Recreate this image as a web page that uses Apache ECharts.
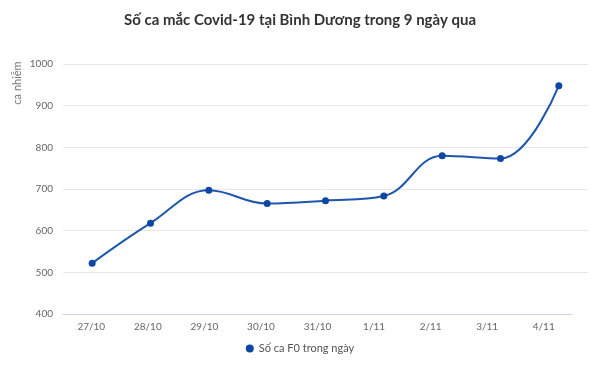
<!DOCTYPE html>
<html><head><meta charset="utf-8">
<script src="https://cdn.jsdelivr.net/npm/echarts@6/dist/echarts.min.js"></script>
<style>html,body{margin:0;padding:0;background:#fff}#c{width:600px;height:367px}</style>
</head><body><div id="c"></div>
<script>
const categories = ['27/10','28/10','29/10','30/10','31/10','1/11','2/11','3/11','4/11'];
const values = [522, 618, 697, 665, 672, 683, 780, 773, 948];
const yTicks = [400, 500, 600, 700, 800, 900, 1000];
const seriesName = 'Số ca F0 trong ngày';
const titleText = 'Số ca mắc Covid-19 tại Bình Dương trong 9 ngày qua';
const yTitle = 'ca nhiễm';

const font = 'Lato, "Open Sans", sans-serif';
const chart = echarts.init(document.getElementById('c'), null, {renderer:'canvas'});
chart.setOption({
  animation:false,
  title:{text:titleText,left:'center',top:8,textStyle:{fontFamily:font,fontSize:15,fontWeight:'bold',color:'#333'}},
  legend:{data:[{name:seriesName,icon:'circle'}],bottom:8,left:'center',itemWidth:8,itemHeight:8,itemGap:4,
    textStyle:{fontFamily:font,fontSize:11,color:'#555'}},
  graphic:[{type:'text',x:17,y:83,rotation:Math.PI/2,style:{text:yTitle,fontFamily:font,fontSize:11,fill:'#777',align:'center',verticalAlign:'middle'}}],
  grid:[
    {left:63,right:28,top:64,bottom:53},
    {left:63,right:12,top:64,bottom:53}
  ],
  xAxis:[
    {type:'category',gridIndex:0,data:categories,boundaryGap:true,
      axisLine:{lineStyle:{color:'#ccd6eb'}},axisTick:{show:false},
      axisLabel:{fontFamily:font,fontSize:10,color:'#666',margin:8}},
    {type:'category',gridIndex:1,data:categories,boundaryGap:true,show:false}
  ],
  yAxis:[
    {type:'value',gridIndex:0,min:yTicks[0],max:yTicks[yTicks.length-1],interval:100,show:false,splitLine:{show:false}},
    {type:'value',gridIndex:1,min:yTicks[0],max:yTicks[yTicks.length-1],interval:100,
      axisLine:{show:false},axisTick:{show:false},
      axisLabel:{fontFamily:font,fontSize:10,color:'#666',margin:10,formatter:v=>String(v)},
      splitLine:{showMinLine:false,lineStyle:{color:'#e6e6e6'}}}
  ],
  series:[{name:seriesName,type:'line',xAxisIndex:1,yAxisIndex:1,data:values,smooth:0.4,
    symbol:'circle',symbolSize:7,
    itemStyle:{color:'#0d47a1'},lineStyle:{color:'#1e56ad',width:2}}]
});
</script></body></html>
